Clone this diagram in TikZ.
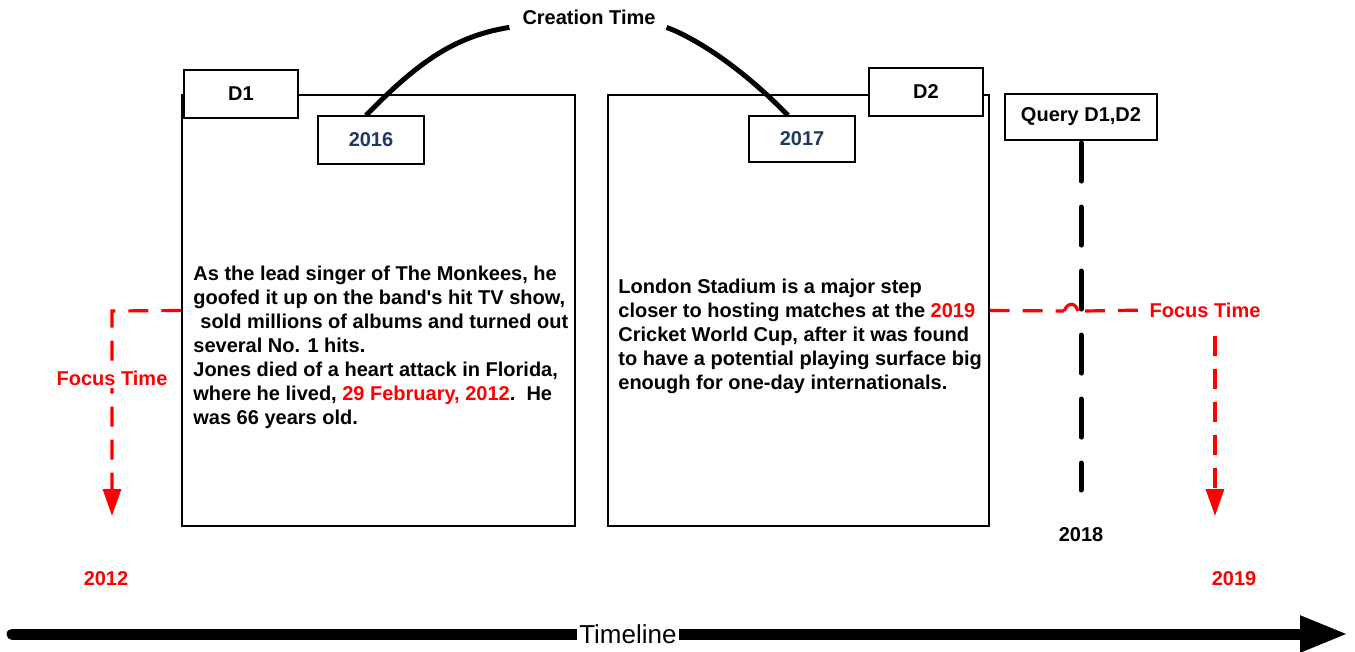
\documentclass[tikz,border=0pt]{standalone}
\usepackage{fontspec}
\setmainfont{Liberation Sans}
\usetikzlibrary{arrows.meta,positioning}

\definecolor{focusred}{RGB}{255,0,0}
\definecolor{yearblue}{RGB}{31,56,100}

\begin{document}
\begin{tikzpicture}[
    x=0.5pt, y=-0.5pt,
    font=\fontsize{10}{12}\selectfont\bfseries,
    docbox/.style={rectangle, draw, line width=0.6pt, minimum height=215.5pt},
    tagbox/.style={rectangle, draw, fill=white, line width=0.6pt, minimum width=57pt, minimum height=24pt},
    yearbox/.style={tagbox, minimum width=53pt, text=yearblue},
    doctext/.style={anchor=north west, inner sep=0pt, align=left},
    focus/.style={draw=focusred, line width=1.6pt, dash pattern=on 10pt off 6.5pt},
    focusarrow/.style={focus, -{Triangle[length=13.5pt,width=9pt]}},
    redlabel/.style={text=focusred},
    creation/.style={line width=2.5pt},
    querytick/.style={line width=2.5pt, line cap=round, dash pattern=on 19pt off 13pt}
]
    \useasboundingbox (0,0) rectangle (1355,652);

    % documents and their tags
    \node[docbox, minimum width=196.5pt] (doc1) at (378.5,310.5) {};
    \node[docbox, minimum width=190.5pt] (doc2) at (798.5,310.5) {};
    \node[tagbox] (d1) at (241,94) {D1};
    \node[tagbox] (d2) at (926,92) {D2};
    \node[yearbox] (y2016) at (371,140) {2016};
    \node[yearbox, minimum height=23pt] (y2017) at (802,139) {2017};
    \node[tagbox, minimum width=76pt, minimum height=23pt] (query) at (1081,117) {Query D1,D2};

    \node[doctext] (text1) at (193,266) {As the lead singer of The Monkees, he\\
        goofed it up on the band\textquotesingle s hit TV show,\\
        \hspace*{3.5pt}sold millions of albums and turned out\\
        several No. 1 hits.\\
        Jones died of a heart attack in Florida,\\
        where he lived, \textcolor{focusred}{29 February, 2012}.\ \ He\\
        was 66 years old.};
    \node[doctext] (text2) at (618,279) {London Stadium is a major step\\
        closer to hosting matches at the \textcolor{focusred}{2019}\\
        Cricket World Cup, after it was found\\
        to have a potential playing surface big\\
        enough for one-day internationals.};

    % creation time
    \node (ctime) at (589,17) {Creation Time};
    \draw[creation] ([xshift=-2.5pt]y2016.north) .. controls (418,62) and (455,36) .. ([shift={(-3pt,2pt)}]ctime.south west);
    \draw[creation] ([shift={(2pt,2pt)}]ctime.south east) .. controls (690,36) and (736,62) .. ([xshift=-7pt]y2017.north);

    % focus time of D1
    \coordinate (bend1) at (112,311);
    \coordinate (end2012) at (112,516);
    \draw[focusarrow] (doc1.west) -- (bend1) -- node[pos=0.33, fill=white, redlabel, inner sep=1pt] (ftL) {Focus Time} (end2012);
    \node[redlabel] (y2012) at (106,579) {2012};

    % focus time of D2, hopping over the query line
    \node[redlabel, inner sep=1pt] (ftR) at (1205,310) {Focus Time};
    \coordinate (hopA) at (1064,311);
    \coordinate (hopB) at (1078,311);
    \coordinate (hopC) at (1085,311);
    \coordinate (end2019) at (1215,516);
    \draw[focus] (doc2.east) -- (hopA);
    \draw[focus, solid] (hopA) .. controls (1068,302) and (1075,302) .. (hopB);
    \draw[focus] (hopC) -- (ftR.west);
    \draw[focusarrow] ([yshift=-8pt]ftR.south -| end2019) -- (end2019);
    \node[redlabel] (y2019) at (1234,579) {2019};

    % query time
    \coordinate (qend) at (1081,490);
    \draw[querytick] ([yshift=-1.25pt]query.south) -- (qend);
    \node (y2018) at (1081,535) {2018};

    % timeline
    \coordinate (tlstart) at (12,634);
    \coordinate (tlend) at (1348,634);
    \draw[line width=5.5pt, line cap=round, -{Triangle[length=24pt,width=17pt]}] (tlstart) -- node[pos=0.461, fill=white, inner sep=1pt, font=\fontsize{13}{15}\selectfont] (tllabel) {Timeline} (tlend);
\end{tikzpicture}
\end{document}
